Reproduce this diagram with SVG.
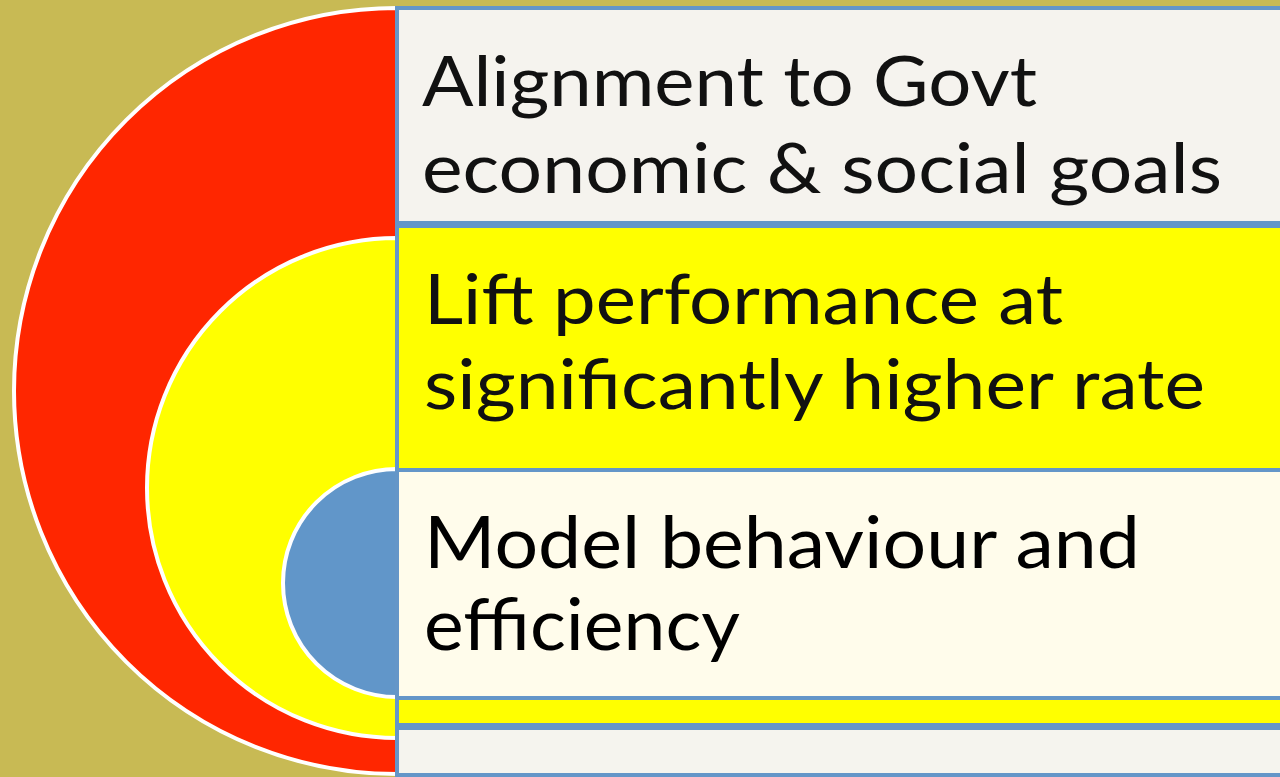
<svg xmlns="http://www.w3.org/2000/svg" width="1280" height="777" viewBox="0 0 1280 777">
<style>
.disc{stroke:#ffffff;stroke-width:4}
.box{stroke:#6496C8;stroke-width:4}
.t{font-family:Lato,"Liberation Sans",sans-serif;font-size:70px;fill:#111111}
.t2{font-family:Lato,"Liberation Sans",sans-serif;font-size:72px;fill:#000000}
</style>
<rect x="0" y="0" width="1280" height="777" fill="#C8BA54"/>
<g id="rings">
<path id="ring-outer" class="disc" fill="#FF2600" d="M397 8 A383 383 0 0 0 397 774 Z"/>
<path id="ring-middle" class="disc" fill="#FFFF00" d="M397 238 A250 250 0 0 0 397 738 Z"/>
<path id="ring-inner" class="disc" fill="#6196C9" d="M397 469 A114 114 0 0 0 397 697 Z"/>
</g>
<g id="connectors"></g>
<g id="node-alignment">
<rect class="box" x="397" y="8" width="900" height="215" fill="#F5F3EE"/>
<text class="t" x="422" y="106" textLength="615" lengthAdjust="spacingAndGlyphs">Alignment to Govt</text>
<text class="t" x="422" y="193" textLength="800" lengthAdjust="spacingAndGlyphs">economic &amp; social goals</text>
</g>
<g id="node-lift">
<rect class="box" x="397" y="226" width="900" height="499" fill="#FFFF00"/>
<text class="t" x="424" y="324" textLength="639" lengthAdjust="spacingAndGlyphs">Lift performance at</text>
<text class="t" x="424" y="409" textLength="781" lengthAdjust="spacingAndGlyphs">significantly higher rate</text>
</g>
<g id="node-model">
<rect class="box" x="397" y="470" width="900" height="228" fill="#FFFCEB"/>
<text class="t2" x="424" y="568" textLength="716" lengthAdjust="spacingAndGlyphs">Model behaviour and</text>
<text class="t2" x="424" y="650" textLength="316" lengthAdjust="spacingAndGlyphs">efficiency</text>
</g>
<g id="node-bottom">
<rect class="box" x="397" y="728" width="900" height="47" fill="#F5F4EE"/>
</g>
</svg>
